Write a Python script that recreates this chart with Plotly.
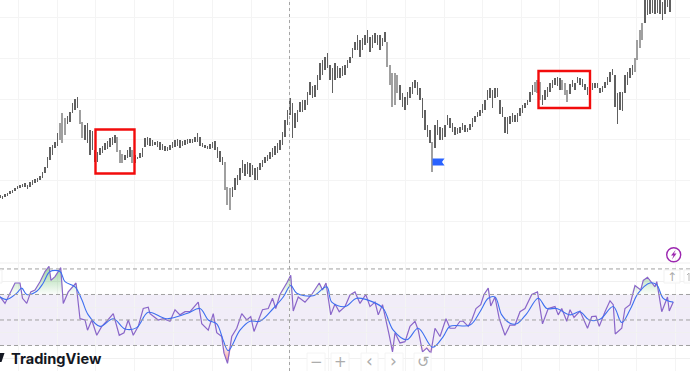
import plotly.graph_objects as go

bar_top = [195,196,194,193,191,190,188,186,185,184,183,185,182,180,179,178,176,172,167,157,147,145,142,133,123,113,118,116,112,103,99,97,110,122,125,123,130,131,150,152,148,146,143,141,138,137,135,137,150,154,155,150,147,150,155,157,153,148,138,137,138,140,142,141,142,144,146,147,145,142,140,139,140,141,140,139,139,139,137,133,137,143,145,146,144,142,141,147,151,157,162,187,188,187,178,175,168,160,164,162,163,165,168,167,163,160,157,155,152,148,146,143,140,132,120,110,98,103,113,110,102,100,100,92,82,86,85,75,63,60,57,53,65,68,63,66,68,66,65,60,57,48,42,35,40,38,35,30,37,35,33,35,35,38,32,42,65,73,73,75,85,93,97,92,87,82,80,82,88,98,110,125,130,142,125,120,127,128,125,115,118,123,127,128,127,123,125,128,124,118,116,112,110,104,100,90,88,90,88,88,100,107,117,117,116,113,115,113,108,105,103,100,92,85,82,80,82,95,90,87,83,80,78,77,78,80,83,90,84,80,83,77,78,79,84,87,83,83,83,83,88,86,82,77,72,69,75,93,92,92,75,72,68,65,58,40,30,23,0,0,0,0,0,0,0,2,0,0,0]
bar_bottom = [198,199,197,196,194,193,191,189,188,187,187,189,187,185,183,182,180,178,173,168,160,155,148,146,140,143,135,124,122,113,110,108,124,138,140,143,155,150,162,162,155,153,150,149,147,145,143,152,163,163,160,158,157,163,163,159,158,157,147,145,146,146,145,147,150,150,151,151,150,148,147,146,148,146,145,144,143,143,142,142,146,147,148,149,149,148,150,158,162,165,190,205,210,197,190,185,180,173,176,174,177,175,180,180,170,167,163,161,159,157,155,153,150,145,137,125,115,138,128,122,112,112,110,105,95,98,97,90,80,75,70,68,80,93,80,78,78,76,75,68,63,58,50,50,57,50,45,43,52,48,43,45,50,46,42,67,85,107,105,93,100,107,110,105,98,94,88,95,100,118,130,137,143,172,148,135,140,140,137,125,128,132,135,134,133,130,132,132,130,127,122,117,116,113,110,100,98,108,98,97,114,117,133,134,124,122,122,122,116,113,108,105,102,95,92,93,100,105,100,97,92,88,85,86,90,90,95,102,94,87,90,83,85,87,90,95,92,90,88,88,93,92,88,85,82,75,107,124,110,111,93,85,78,75,72,60,48,40,23,15,14,13,14,13,14,20,14,7,12]
pale_bars = [24,25,26,32,33,47,48,49,53,90,91,92,155,156,157,158,159,173,214,215,216,225,226,227,254,255,256,257]

rsi_bar = [0,2,4,6,8,9,10.7,12.3,14,16,18,19.6,20.4,22,24.3,25.3,27.3,30.4,32,34,35,36.7,38.7,40.7,42.7,45.3,47.7,49.6,51.3,53.3,55.3,57.3,59.3,60,63.3,65.3,68,70,72,74,76,79.3,80.7,83.3,85.3,86.7,88.7,89.6,91,92.7,94.7,96.7,98.7,100.3,101.6,103.3,105,107.3,109,110.3,112,114.7,116.3,117.3,119.3,122,124.7,127.7,129,130.4,132.3,134,135.7,138,140,142,144,146.3,148,150,151.3,153,154.4,155.7,157,158,160,162,164,166,167.3,169,170.7,172.3,174,176,178.4,180,182,184,185.3,187.3,188.7,190.4,192.3,193.6,195.3,196.3,198,199.7,202,204,206,208,210,212.7,215,217,219.3,222,223.3,224.7,226.7,228,229.6,232,235,236.7,238.4,239.7,242,244,245.3,246.1,248.7,250,252,254,256.3,257.3,259,262,262.7,264.7,267,267.7,269.3]
rsi_value = [68.3,63,71,79,79,67,63,72,73.5,80,88,92,81,84,91,63,72,79,51,50,42,50,38,45,49,55,38,40,50,38,45,59,60,55,50,51,49,58,54,56.5,56.5,64,47,42,55,40,37,24,16,37,43.5,55,50,52.6,41,50,58,59,67,59,70,79,85,57,68,64,70,79,73.5,79,54,62.5,56.5,60.5,69.6,72,63,70,60.5,64,54,62,50,38,25,40,32,33,45,49,42,25,28,24,43.5,37,51,43.5,43.5,49,49,45,50,59,62,70,75,61,68,51,38,46,46,56.5,59,70,72,47,59,60.5,54,59,49,58,52,57,43.5,52.6,53,45,56.5,65,62,39,43.5,59,62,77,73.5,81,83.5,76,80,56.5,68,57,64]
ma_bar = [0,2.7,6.7,8.7,10.7,14.7,17.3,20,24,26,30,32.7,35.3,40,45.3,50,54.7,59.3,66.7,74.7,80,83.3,86.7,89.3,91.3,96,100,104,109.3,113.3,116.3,118.7,125.3,130.7,132.7,138,142.7,149.3,153.3,157.3,162.7,167.3,173,177.3,180,188,192,195.3,198,200.7,204,206.7,210.7,215.3,218.7,222.7,228,232,235.7,240,245.3,248.7,252,255.3,260,262.7,265.3,269.3]
ma_value = [68,66,71,75,70,72.5,79,88,88,80,76,66,54,45,51,43,44,56,51,55,59,50,47,34,26,42,49,49,59,68,77,71,69,76,64,60.5,67,64,59,42,34.5,43.5,28.6,37,45,46,56.5,67,68,54,47.5,47,55,67,59,59,54,56.5,50,50.5,60.5,48,58,71,79,77.5,67,64]

grid_bars = [7.3,22.9,38.3,53.7,69.3,84.9,100.4,115.8,131.2,146.7,162.1,177.6,193,208.4,223.8,239.3,254.7,270]
price_grid = [17,58,99,139,180,221]
rsi_grid = [80,60,40,20]
rsi_levels = [90,70,50,30]
band = [30,70]

W, H = 690, 371
px = lambda x: x / W
py = lambda y: 1 - y / H

fig = go.Figure()
fig.add_trace(go.Bar(
    x=list(range(len(bar_top))), base=bar_top,
    y=[b - t for t, b in zip(bar_top, bar_bottom)],
    width=[0.55 if i in pale_bars else 0.3 for i in range(len(bar_top))],
    marker=dict(color=["#a0a0a0" if i in pale_bars else "#606060" for i in range(len(bar_top))], line_width=0),
    hoverinfo="skip"))

# overbought / oversold fills
fig.add_trace(go.Scatter(x=rsi_bar, y=[70]*len(rsi_bar), yaxis="y2", mode="lines", line=dict(width=0), hoverinfo="skip"))
fig.add_trace(go.Scatter(x=rsi_bar, y=[max(v, 70) for v in rsi_value], yaxis="y2", mode="lines", line=dict(width=0),
    fill="tonexty", fillgradient=dict(type="vertical", colorscale=[[0, "rgba(76,175,80,0.02)"], [1, "rgba(76,175,80,0.55)"]]), hoverinfo="skip"))
fig.add_trace(go.Scatter(x=rsi_bar, y=[30]*len(rsi_bar), yaxis="y2", mode="lines", line=dict(width=0), hoverinfo="skip"))
fig.add_trace(go.Scatter(x=rsi_bar, y=[min(v, 30) for v in rsi_value], yaxis="y2", mode="lines", line=dict(width=0),
    fill="tonexty", fillgradient=dict(type="vertical", colorscale=[[0, "rgba(239,83,80,0.65)"], [1, "rgba(239,83,80,0.02)"]]), hoverinfo="skip"))
fig.add_trace(go.Scatter(x=rsi_bar, y=rsi_value, yaxis="y2", mode="lines", line=dict(color="#8a66c9", width=1.2), hoverinfo="skip"))
fig.add_trace(go.Scatter(x=ma_bar, y=ma_value, yaxis="y2", mode="lines", line=dict(color="#3d6ff0", width=1.1, shape="spline"), hoverinfo="skip"))

shapes = [
    dict(type="rect", xref="paper", x0=0, x1=1, yref="y2", y0=band[0], y1=band[1], fillcolor="rgba(126,87,194,0.11)", line_width=0, layer="below"),
    dict(type="line", xref="paper", x0=0, x1=1, yref="paper", y0=py(263), y1=py(263), line=dict(color="#efefef", width=1), layer="below"),
    dict(type="line", xref="x", x0=115.8, x1=115.8, yref="paper", y0=0, y1=1, line=dict(color="#a5a5a5", width=1, dash="3px,3px")),
    dict(type="rect", xref="paper", yref="paper", x0=px(95.5), x1=px(134.5), y0=py(129.5), y1=py(173.5), line=dict(color="#f20c0c", width=2.4)),
    dict(type="rect", xref="paper", yref="paper", x0=px(538.5), x1=px(590), y0=py(71), y1=py(108), line=dict(color="#f20c0c", width=2.4)),
    dict(type="path", xref="paper", yref="paper", fillcolor="#2962ff", line_width=0,
         path=f"M {px(432.5)} {py(158.5)} L {px(444.5)} {py(158.5)} L {px(442)} {py(162)} L {px(444.5)} {py(165.5)} L {px(432.5)} {py(165.5)} Z"),
    dict(type="path", xref="paper", yref="paper", fillcolor="#131722", line_width=0,
         path=f"M {px(0)} {py(353)} L {px(4.5)} {py(353)} L {px(1.5)} {py(362)} L {px(0)} {py(362)} Z"),
    dict(type="circle", xref="paper", yref="paper", x0=px(666.7), x1=px(680.7), y0=py(247.7), y1=py(261.7), line=dict(color="#9c27b0", width=1.4)),
    dict(type="path", xref="paper", yref="paper", fillcolor="#9c27b0", line_width=0,
         path=f"M {px(675.5)} {py(250)} L {px(671)} {py(255.5)} L {px(673.5)} {py(255.5)} L {px(672)} {py(259.5)} L {px(676.5)} {py(253.5)} L {px(674)} {py(253.5)} Z"),
]
for lv in rsi_levels:
    shapes.append(dict(type="line", xref="paper", x0=0, x1=1, yref="y2", y0=lv, y1=lv, line=dict(color="#a0a0a0", width=1, dash="4px,3px")))
for x0, x1 in [(307,325),(331,349),(361,378),(385,403),(414,431)]:
    shapes.append(dict(type="rect", xref="paper", yref="paper", x0=px(x0), x1=px(x1), y0=py(353), y1=py(372), line=dict(color="#f4f4f4", width=1), fillcolor="rgba(255,255,255,0.85)"))
for x0, x1 in [(-4,2),(664,680),(684,700)]:
    shapes.append(dict(type="rect", xref="paper", yref="paper", x0=px(x0), x1=px(x1), y0=py(270), y1=py(283), line=dict(color="#f1f1f1", width=1), fillcolor="rgba(255,255,255,0.8)"))
# arrow stub at the right edge, cut by the frame in the reference
shapes.append(dict(type="path", xref="paper", yref="paper", line=dict(color="#b5b5b5", width=1),
    path=f"M {px(689)} {py(281)} L {px(689)} {py(273)} L {px(687)} {py(275)}"))

notes = [("−", 316, 362, 15), ("+", 340, 362, 15), ("‹", 369.5, 361, 17), ("›", 393.5, 361, 17), ("↺", 423, 362, 15), ("↑", 672, 276.5, 12)]
annotations = [dict(text=t, x=px(x), y=py(y), xref="paper", yref="paper", showarrow=False, font=dict(family="DejaVu Sans", size=s, color="#acacac"), xanchor="center", yanchor="middle") for t, x, y, s in notes]
annotations.append(dict(text="<b>TradingView</b>", x=px(8.5), y=py(358.5), xref="paper", yref="paper", showarrow=False,
    xanchor="left", yanchor="middle", font=dict(family="Inter", size=14.6, color="#131722")))

fig.update_layout(
    width=W, height=H, margin=dict(l=0, r=0, t=0, b=0), paper_bgcolor="white", plot_bgcolor="rgba(0,0,0,0)",
    showlegend=False, bargap=0,
    xaxis=dict(range=[0, W / 2.5], tickvals=grid_bars, showticklabels=False, ticks="", gridcolor="#f4f4f4", gridwidth=1, zeroline=False, showline=False),
    yaxis=dict(range=[H, 0], domain=[0, 1], tickvals=price_grid, showticklabels=False, ticks="", gridcolor="#f4f4f4", zeroline=False, showline=False),
    yaxis2=dict(range=[10, 93.1], domain=[0, 106 / H], anchor="x", tickvals=rsi_grid, showticklabels=False, ticks="", gridcolor="#f0f0f0", zeroline=False, showline=False),
    shapes=shapes, annotations=annotations,
)
fig.write_html("out.html", config=dict(displayModeBar=False), post_script="document.body.style.margin='0';document.body.style.overflow='hidden';")
